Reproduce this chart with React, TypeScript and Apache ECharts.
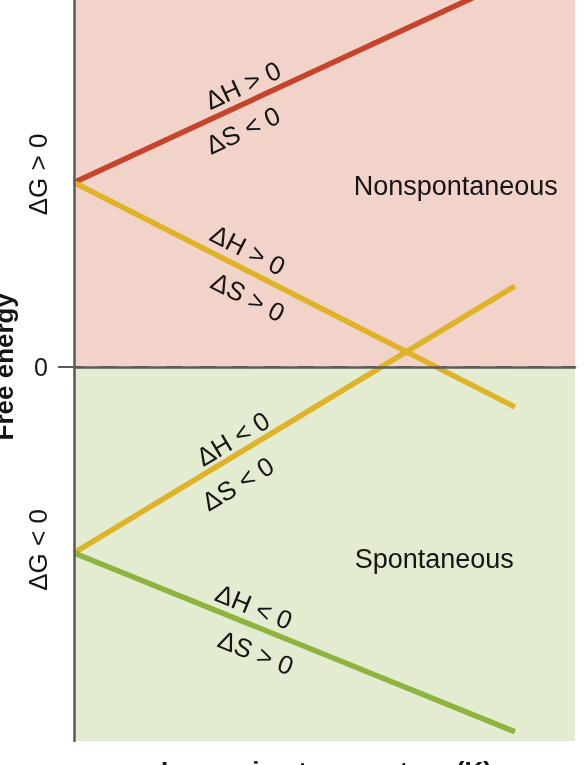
import React, { useEffect, useRef } from "react";
import * as echarts from "echarts";

// Temperature (arbitrary units) at start and end of each line
const temps = [0, 88];
// Free energy (arbitrary units) at start and end of each line
const redDG = [9.85, 20.76]; // ΔH > 0, ΔS < 0
const yellowDownDG = [9.85, -2.15]; // ΔH > 0, ΔS > 0
const yellowUpDG = [-9.95, 4.31]; // ΔH < 0, ΔS < 0
const greenDG = [-9.95, -19.5]; // ΔH < 0, ΔS > 0

const xRange = [0, 100];
const yRange = [-20, 19.6];

const yTickLabels = [
  { value: 9.85, text: "ΔG > 0" },
  { value: -9.95, text: "ΔG < 0" },
];

const regionLabels = [
  { text: "Nonspontaneous", x: 76.2, y: 9.66 },
  { text: "Spontaneous", x: 71.9, y: -10.28 },
];

const lineLabels = [
  { line: 0, text: "ΔH > 0", at: 33.7, dy: -19 },
  { line: 0, text: "ΔS < 0", at: 33.7, dy: 26 },
  { line: 1, text: "ΔH > 0", at: 34.7, dy: -21 },
  { line: 1, text: "ΔS > 0", at: 34.7, dy: 26 },
  { line: 2, text: "ΔH < 0", at: 31.7, dy: -18 },
  { line: 2, text: "ΔS < 0", at: 32.7, dy: 30 },
  { line: 3, text: "ΔH < 0", at: 35.9, dy: -19 },
  { line: 3, text: "ΔS > 0", at: 36.3, dy: 26 },
];

const xTitle = "Increasing temperature (K)";
const yTitle = "Free energy";

const lines = [
  { data: redDG, color: "#c6442b" },
  { data: yellowDownDG, color: "#dfb327" },
  { data: yellowUpDG, color: "#dfb327" },
  { data: greenDG, color: "#8cb43e" },
];

const FONT = "'Liberation Sans', Arial, sans-serif";
const TEXT = "#151515";
const AXIS = "#5a5a5a";

export default function App() {
  const ref = useRef<HTMLDivElement>(null);
  useEffect(() => {
    if (!ref.current) return;
    const chart = echarts.init(ref.current, null, { renderer: "svg" });
    const series: any[] = [
      {
        type: "line",
        name: "regions",
        data: [],
        z: 1,
        silent: true,
        markArea: {
          silent: true,
          itemStyle: { opacity: 1 },
          data: [
            [
              { xAxis: xRange[0], yAxis: 0, itemStyle: { color: "#f1d3ca" } },
              { xAxis: xRange[1], yAxis: yRange[1] },
            ],
            [
              { xAxis: xRange[0], yAxis: yRange[0], itemStyle: { color: "#e3ebd1" } },
              { xAxis: xRange[1], yAxis: 0 },
            ],
          ],
        },
        markLine: {
          silent: true,
          symbol: "none",
          label: { show: false },
          lineStyle: { color: "#585858", width: 2, type: [16, 17], dashOffset: 7 },
          data: [{ yAxis: 0 }],
        },
      },
    ];
    lines.forEach((l) => {
      series.push({
        type: "line",
        data: temps.map((t, i) => [t, l.data[i]]),
        symbol: "none",
        z: 5,
        clip: true,
        lineStyle: { color: l.color, width: 5.5, cap: "butt" },
      });
    });
    chart.setOption({
      animation: false,
      grid: { left: 74, right: 10, top: 0, bottom: 24 },
      xAxis: {
        type: "value",
        min: xRange[0],
        max: xRange[1],
        z: 10,
        axisLine: { show: true, lineStyle: { color: AXIS, width: 2.5 } },
        axisTick: { show: false },
        axisLabel: { show: false },
        splitLine: { show: false },
      },
      yAxis: {
        type: "value",
        min: yRange[0],
        max: yRange[1],
        z: 10,
        axisLine: { show: true, lineStyle: { color: AXIS, width: 2.5 } },
        axisTick: { show: true, customValues: [0], length: 16, lineStyle: { color: AXIS, width: 2 } },
        axisLabel: {
          show: true,
          customValues: [0],
          margin: 26,
          fontSize: 25,
          fontFamily: FONT,
          color: TEXT,
          formatter: (v: number) => (v === 0 ? "0" : ""),
        },
        splitLine: { show: false },
      },
      series,
    });

    const px = (x: number, y: number) => chart.convertToPixel({ gridIndex: 0 }, [x, y]) as number[];
    const graphics: any[] = [];

    lineLabels.forEach((lab) => {
      const l = lines[lab.line];
      const p0 = px(temps[0], l.data[0]);
      const p1 = px(temps[1], l.data[1]);
      const f = (lab.at - temps[0]) / (temps[1] - temps[0]);
      const yv = l.data[0] + f * (l.data[1] - l.data[0]);
      const p = px(lab.at, yv);
      const ang = Math.atan2(-(p1[1] - p0[1]), p1[0] - p0[0]);
      graphics.push({
        type: "text",
        x: p[0],
        y: p[1] + lab.dy,
        rotation: ang,
        z: 20,
        style: {
          text: lab.text,
          fontSize: 26,
          fontFamily: FONT,
          fill: TEXT,
          align: "center",
          verticalAlign: "middle",
        },
      });
    });

    regionLabels.forEach((r) => {
      const p = px(r.x, r.y);
      graphics.push({
        type: "text",
        x: p[0],
        y: p[1],
        z: 20,
        style: { text: r.text, fontSize: 27, fontFamily: FONT, fill: TEXT, align: "center", verticalAlign: "middle" },
      });
    });

    yTickLabels.forEach((t, i) => {
      const p = px(xRange[0], t.value);
      graphics.push({
        type: "text",
        x: 38,
        y: p[1] + (i === 0 ? -8 : -3),
        rotation: Math.PI / 2,
        z: 20,
        style: { text: t.text, fontSize: 26, fontFamily: FONT, fill: TEXT, align: "center", verticalAlign: "middle" },
      });
    });

    const zero = px(xRange[0], 0);
    graphics.push({
      type: "text",
      x: 3.5,
      y: zero[1],
      rotation: Math.PI / 2,
      z: 20,
      style: { text: yTitle, fontSize: 26, fontWeight: "bold", fontFamily: FONT, fill: TEXT, align: "center", verticalAlign: "middle" },
    });
    const left = px(xRange[0], yRange[0]);
    const right = px(xRange[1], yRange[0]);
    graphics.push({
      type: "text",
      x: (left[0] + right[0]) / 2 + 2,
      y: left[1] + 30,
      z: 20,
      style: { text: xTitle, fontSize: 26, fontWeight: "bold", fontFamily: FONT, fill: TEXT, align: "center", verticalAlign: "middle" },
    });

    chart.setOption({ graphic: graphics });
    return () => chart.dispose();
  }, []);
  return <div ref={ref} style={{ position: "fixed", left: 0, top: 0, width: 585, height: 765 }} />;
}
